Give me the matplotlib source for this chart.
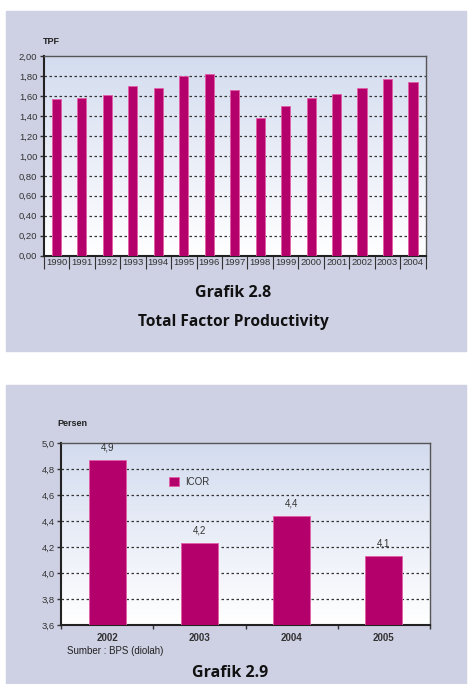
import numpy as np
import matplotlib
matplotlib.use('Agg')
import matplotlib.pyplot as plt
from matplotlib.patches import Rectangle
from matplotlib.ticker import FuncFormatter, FixedLocator

# Data
tpf_years = ['1990', '1991', '1992', '1993', '1994', '1995', '1996', '1997',
             '1998', '1999', '2000', '2001', '2002', '2003', '2004']
tpf_values = [1.57, 1.58, 1.61, 1.70, 1.68, 1.80, 1.82, 1.66,
              1.38, 1.50, 1.58, 1.62, 1.68, 1.77, 1.74]

icor_years = ['2002', '2003', '2004', '2005']
icor_values = [4.87, 4.23, 4.44, 4.13]
icor_labels = ['4,9', '4,2', '4,4', '4,1']

panel_color = '#CED0E3'
bar_color = '#B3006B'
edge_color = '#E45FA8'
font = 'Liberation Sans'

fig = plt.figure(figsize=(4.68, 6.84), dpi=100)
fig.patch.set_facecolor('white')

# Panel backgrounds (behind the axes)
fig.patches.append(Rectangle((6 / 468, 1 - 351 / 684), 460 / 468, 340 / 684,
                             transform=fig.transFigure, color=panel_color, zorder=-5))
fig.patches.append(Rectangle((6 / 468, 0), 460 / 468, 299 / 684,
                             transform=fig.transFigure, color=panel_color, zorder=-5))

gradient = np.linspace(1, 0, 256).reshape(-1, 1)
grad_cmap = matplotlib.colors.LinearSegmentedColormap.from_list('g', ['#FFFFFF', '#D3DCEF'])


def style_axes(ax):
    ax.imshow(gradient, cmap=grad_cmap, aspect='auto', extent=[0, 1, 0, 1],
              transform=ax.transAxes, zorder=0)
    for side in ['left', 'bottom']:
        ax.spines[side].set_linewidth(1.5)
        ax.spines[side].set_color('#222222')
    for side in ['top', 'right']:
        ax.spines[side].set_linewidth(1.0)
        ax.spines[side].set_color('#555555')
    ax.tick_params(axis='y', labelsize=6.8, colors='#333333', length=3, width=1, pad=1.5)
    for lbl in ax.get_yticklabels():
        lbl.set_fontname(font)


# Top chart: TPF
ax1 = fig.add_axes([43.7 / 468, 1 - 255.7 / 684, 382 / 468, 199.7 / 684])
x1 = np.arange(len(tpf_years))
ax1.bar(x1, tpf_values, width=0.36, color=bar_color, edgecolor=edge_color,
        linewidth=0.6, zorder=3)
ax1.set_yticks(np.arange(0, 2.01, 0.2))
ax1.yaxis.set_major_formatter(FuncFormatter(lambda v, p: f'{v:.2f}'.replace('.', ',')))
for y in np.arange(0.2, 1.81, 0.2):
    ax1.axhline(y, color='#333333', linestyle=(0, (2, 2)), linewidth=0.9, zorder=2)
ax1.set_xticks(x1)
ax1.set_xticklabels(tpf_years, fontname=font, fontsize=6.8, color='#333333')
ax1.tick_params(axis='x', which='major', length=0, pad=2)
ax1.xaxis.set_minor_locator(FixedLocator(np.arange(-0.5, len(tpf_years), 1.0)))
ax1.tick_params(axis='x', which='minor', length=9, width=0.8, color='#333333')
style_axes(ax1)
ax1.set_xlim(-0.5, len(tpf_years) - 0.5)
ax1.set_ylim(0, 2.0)

fig.text(43 / 468, 1 - 42 / 684, 'TPF', fontname=font, fontsize=6.5,
         fontweight='bold', color='#222222', ha='left', va='center')
fig.text(233 / 468, 1 - 293 / 684, 'Grafik 2.8', fontname='Open Sans',
         fontsize=11.5, fontweight='bold', color='#111111', ha='center', va='center')
fig.text(233 / 468, 1 - 322 / 684, 'Total Factor Productivity', fontname='Open Sans',
         fontsize=11.2, fontweight='bold', color='#111111', ha='center', va='center')

# Bottom chart: ICOR
ax2 = fig.add_axes([61 / 468, 1 - 625 / 684, 369 / 468, 181.7 / 684])
x2 = np.arange(len(icor_years))
bars = ax2.bar(x2, icor_values, width=0.4, color=bar_color, edgecolor=edge_color,
               linewidth=0.6, zorder=3, label='ICOR')
ax2.set_yticks(np.arange(3.6, 5.01, 0.2))
ax2.yaxis.set_major_formatter(FuncFormatter(lambda v, p: f'{v:.1f}'.replace('.', ',')))
for y in np.arange(3.8, 4.81, 0.2):
    ax2.axhline(y, color='#333333', linestyle=(0, (2, 2)), linewidth=0.9, zorder=2)
ax2.set_xticks(x2)
ax2.set_xticklabels(icor_years, fontname=font, fontsize=7, fontweight='bold', color='#333333')
ax2.tick_params(axis='x', which='major', length=0, pad=6)
ax2.xaxis.set_minor_locator(FixedLocator(np.arange(-0.5, len(icor_years), 1.0)))
ax2.tick_params(axis='x', which='minor', length=3, width=1, color='#333333')
for b, lab in zip(bars, icor_labels):
    ax2.annotate(lab, (b.get_x() + b.get_width() / 2, b.get_height()),
                 xytext=(0, 9), textcoords='offset points', ha='center', va='center',
                 fontname=font, fontsize=7, color='#333333')
style_axes(ax2)
ax2.set_xlim(-0.5, len(icor_years) - 0.5)
ax2.set_ylim(3.6, 5.0)
leg = ax2.legend(loc='center left', bbox_to_anchor=(0.27, 0.787), frameon=False,
                 handlelength=1.0, handleheight=1.0, handletextpad=0.6,
                 prop={'family': font, 'size': 7})
for t in leg.get_texts():
    t.set_color('#333333')

fig.text(57 / 468, 1 - 423 / 684, 'Persen', fontname=font, fontsize=6.5,
         fontweight='bold', color='#222222', ha='left', va='center')
fig.text(67 / 468, 1 - 651 / 684, 'Sumber : BPS (diolah)', fontname=font, fontsize=7,
         color='#222222', ha='left', va='center')
fig.text(230 / 468, 1 - 673 / 684, 'Grafik 2.9', fontname='Open Sans',
         fontsize=11.5, fontweight='bold', color='#111111', ha='center', va='center')

fig.savefig('out.png', dpi=100, facecolor=fig.get_facecolor())
